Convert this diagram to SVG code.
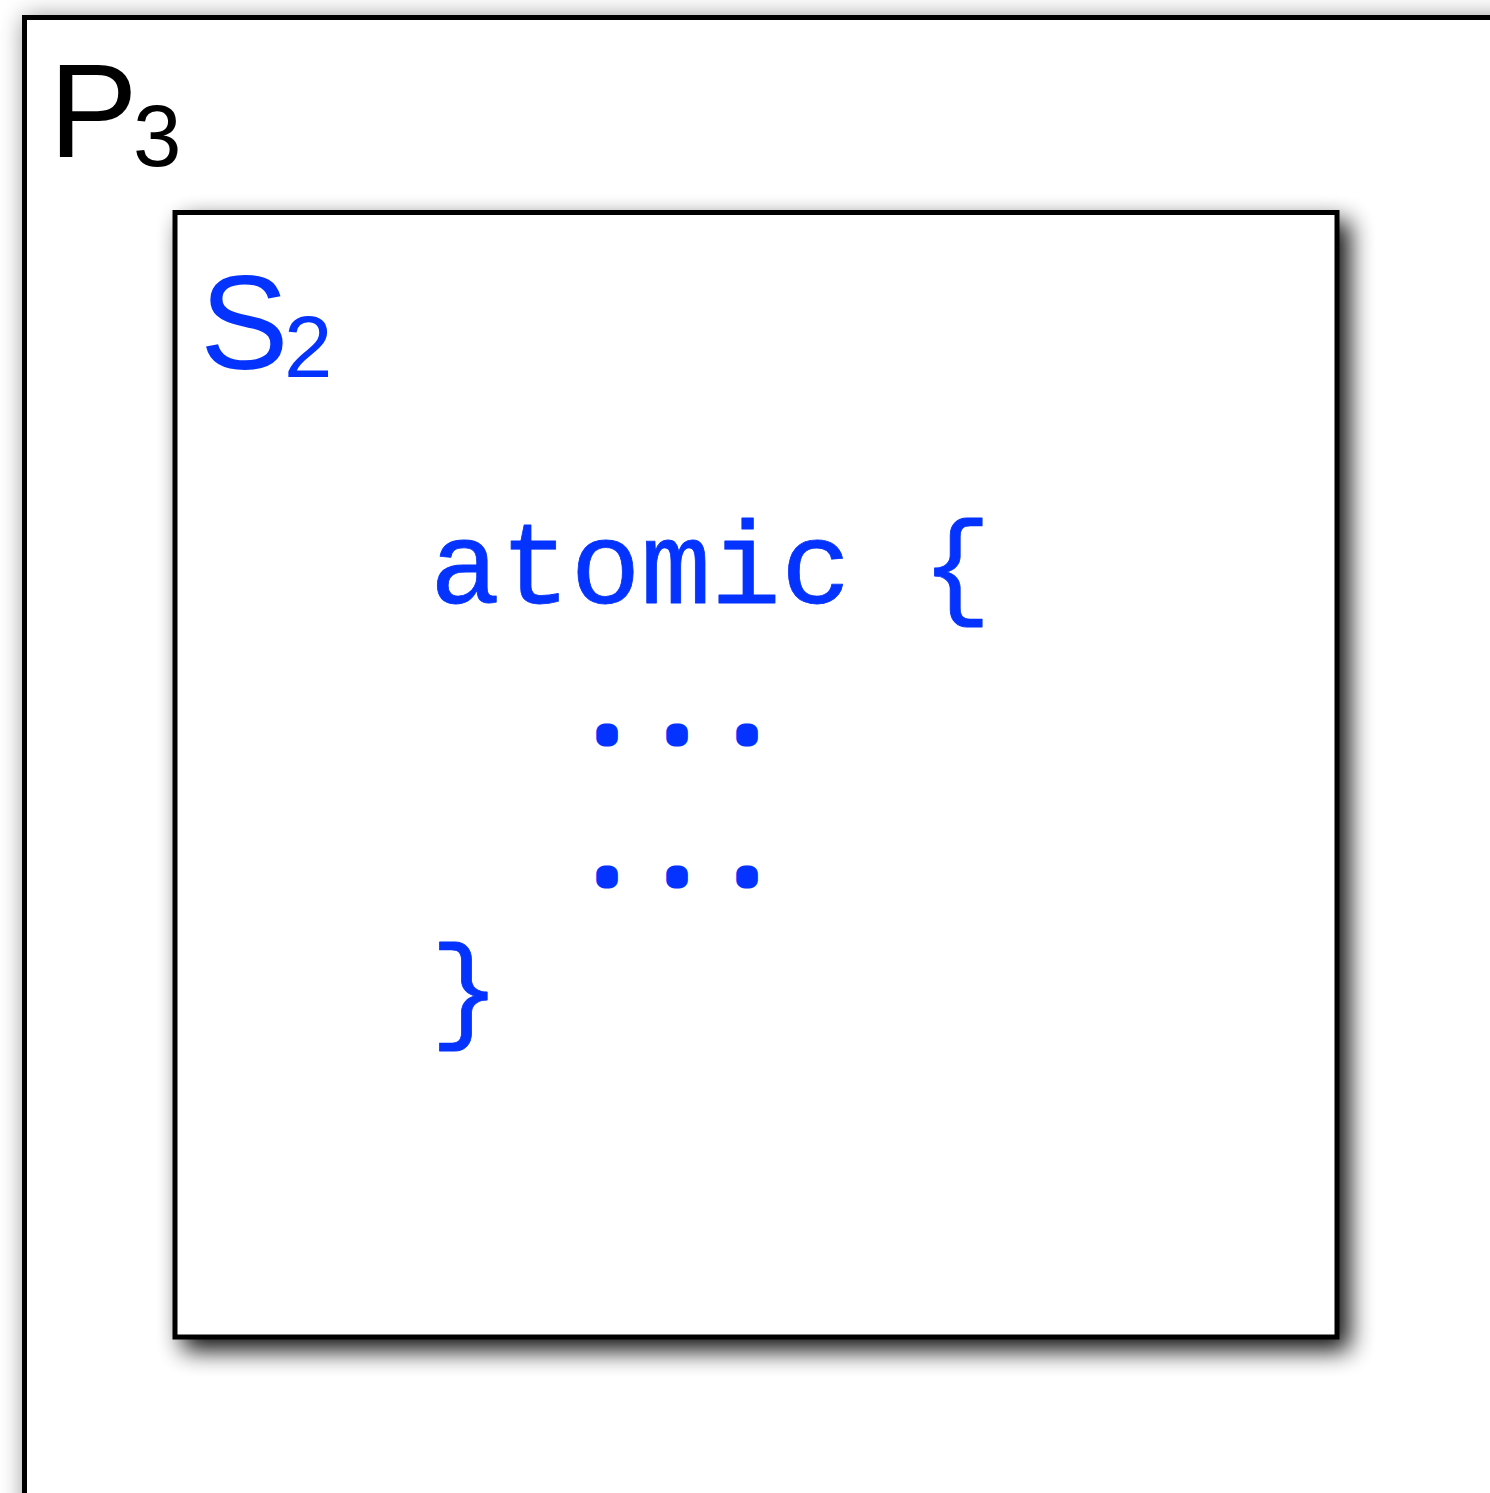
<svg xmlns="http://www.w3.org/2000/svg" width="1490" height="1493" viewBox="0 0 1490 1493">
  <style>
    .frame { fill: #ffffff; stroke: #000000; stroke-width: 5; }
    .label { font-family: "Liberation Sans", Arial, sans-serif; }
    .code { font-family: "Liberation Mono", "Courier New", monospace; fill: #0433FF; stroke: #0433FF; stroke-width: 0.8; stroke-linejoin: round; }
    .dots { font-size: 40px; letter-spacing: 46px; stroke-width: 17; }
    .blue { fill: #0433FF; }
  </style>
  <defs>
    <!-- soft drop shadow for the inner section box -->
    <filter id="shadow" x="-10%" y="-10%" width="130%" height="130%">
      <feGaussianBlur in="SourceAlpha" stdDeviation="12"/>
      <feOffset dx="10" dy="11" result="blur"/>
      <feComponentTransfer>
        <feFuncA type="linear" slope="0.95"/>
      </feComponentTransfer>
      <feMerge>
        <feMergeNode/>
        <feMergeNode in="SourceGraphic"/>
      </feMerge>
    </filter>
    <!-- lighter halo for the outer process frame -->
    <filter id="halo" x="-10%" y="-10%" width="130%" height="130%">
      <feGaussianBlur in="SourceAlpha" stdDeviation="12"/>
      <feOffset dx="2" dy="2" result="blur"/>
      <feComponentTransfer>
        <feFuncA type="linear" slope="0.45"/>
      </feComponentTransfer>
      <feMerge>
        <feMergeNode/>
        <feMergeNode in="SourceGraphic"/>
      </feMerge>
    </filter>
  </defs>
  <rect width="1490" height="1493" fill="#ffffff"/>

  <!-- process P3 -->
  <g id="process-p3">
    <rect class="frame" x="24.5" y="17.5" width="1600" height="1600" filter="url(#halo)"/>
    <text class="label" x="49" y="157" font-size="133" fill="#000000">P<tspan x="133" y="166" font-size="87">3</tspan></text>
  </g>

  <!-- section S2 -->
  <g id="section-s2">
    <rect class="frame" x="175" y="212.5" width="1162" height="1124.5" filter="url(#shadow)"/>
    <text class="label blue" x="200" y="369" font-size="133">S<tspan x="284" y="377" font-size="87">2</tspan></text>
  </g>

  <!-- atomic block -->
  <g id="atomic-block">
    <text class="code" x="430" y="603" font-size="117">atomic {</text>
    <text class="code dots" x="595" y="738">...</text>
    <text class="code dots" x="595" y="880">...</text>
    <text class="code" x="430" y="1027" font-size="117">}</text>
  </g>

  <g id="connectors"/>
</svg>
